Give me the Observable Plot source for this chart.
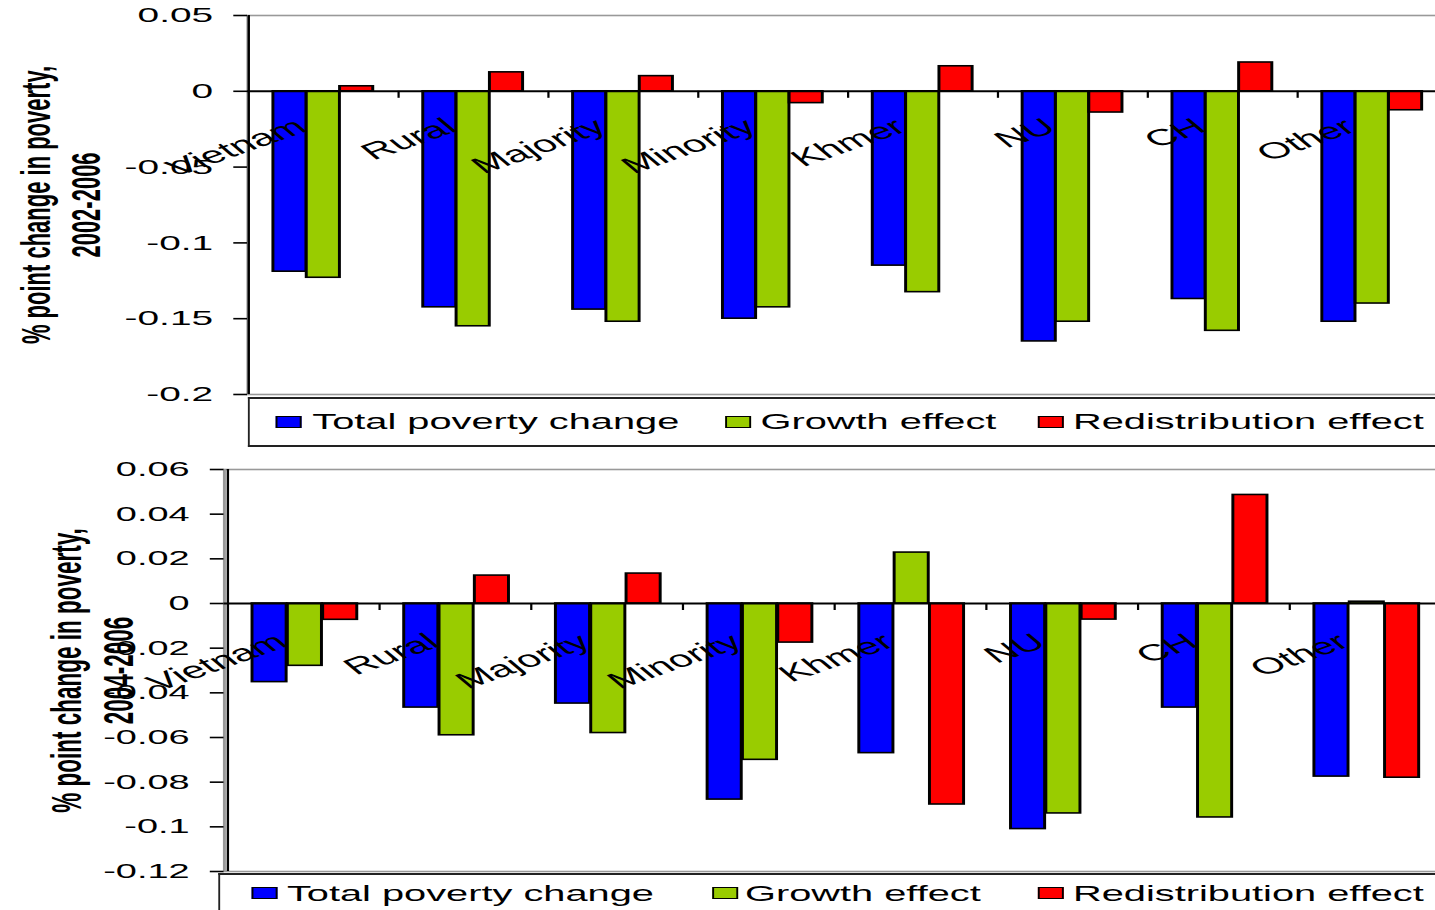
<!DOCTYPE html>
<html><head><meta charset="utf-8">
<script src="https://cdn.jsdelivr.net/npm/d3@7"></script>
<script src="https://cdn.jsdelivr.net/npm/@observablehq/plot@0.6"></script>
<style>
html,body{margin:0;padding:0;background:#fff;overflow:hidden;width:1435px;height:910px;}
#wrap{position:absolute;left:0;top:0;width:800px;height:910px;transform:scaleX(1.85);transform-origin:0 0;font-family:"Liberation Sans",Arial,sans-serif;}
.chart{position:absolute;left:0;}
.lbox{position:absolute;background:#fff;border-top:2px solid #222;border-bottom:2px solid #222;border-left:1.1px solid #222;width:700px;height:46px;}
.sw{position:absolute;width:12px;height:10px;border:1px solid #000;border-left-width:0.8px;border-right-width:0.8px;}
.lt{position:absolute;font-size:21.5px;line-height:21px;white-space:nowrap;color:#000;}
</style></head><body><div id="wrap"></div>
<script>
// ---- data ----
const categories = ["Vietnam", "Rural", "Majority", "Minority", "Khmer", "NU", "CH", "Other"];
const seriesNames = ["Total poverty change", "Growth effect", "Redistribution effect"];
const seriesColors = ["#0000FF", "#99CC00", "#FF0000"];

// 2002-2006
const total0206  = [-0.119, -0.1425, -0.144, -0.150, -0.115, -0.165, -0.137, -0.152];
const growth0206 = [-0.123, -0.155, -0.152, -0.1425, -0.1325, -0.152, -0.158, -0.140];
const redist0206 = [0.0033, 0.0125, 0.010, -0.0078, 0.0165, -0.014, 0.019, -0.0125];
const yTicks0206 = [0.05, 0, -0.05, -0.1, -0.15, -0.2];

// 2004-2006
const total0406  = [-0.0352, -0.0466, -0.0448, -0.0878, -0.067, -0.101, -0.0466, -0.0775];
const growth0406 = [-0.0279, -0.059, -0.058, -0.070, 0.0228, -0.094, -0.0958, 0.0008];
const redist0406 = [-0.0073, 0.0125, 0.0134, -0.0175, -0.090, -0.0072, 0.0486, -0.078];
const yTicks0406 = [0.06, 0.04, 0.02, 0, -0.02, -0.04, -0.06, -0.08, -0.1, -0.12];

const titleTop = "% point change in poverty,\n2002-2006";
const titleBottom = "% point change in poverty,\n2004-2006";

const FONT = "Liberation Sans, Arial, sans-serif";
const fmt = d => d === 0 ? "0" : String(+d.toFixed(2));

function makeChart(cfg) {
  const rows = categories.map((c, i) => ({cat: c, v0: cfg.series[0][i], v1: cfg.series[1][i], v2: cfg.series[2][i]}));
  const plotW = cfg.width - cfg.marginLeft - cfg.marginRight;
  const plotH = cfg.height - cfg.marginTop - cfg.marginBottom;
  const band = plotW / categories.length;
  const tickData = 7 * (cfg.domain[1] - cfg.domain[0]) / plotH;
  const keys = ["v0", "v1", "v2"];
  const bars = keys.map((k, j) => Plot.barY(rows, {
    x: "cat", y: k, fill: seriesColors[j], stroke: "#000", strokeWidth: 1.6,
    insetLeft: band * (cfg.off + j * cfg.bw),
    insetRight: band * (1 - cfg.off - (j + 1) * cfg.bw)
  }));
  return Plot.plot({
    width: cfg.width, height: cfg.height,
    marginLeft: cfg.marginLeft, marginRight: cfg.marginRight,
    marginTop: cfg.marginTop, marginBottom: cfg.marginBottom,
    style: {fontFamily: FONT, color: "#000", background: "transparent", overflow: "visible"},
    x: {domain: categories, axis: null, padding: 0},
    y: {domain: cfg.domain, axis: null, label: null},
    marks: [
      Plot.frame({stroke: "#999", strokeWidth: 1.6}),
      ...bars,
      Plot.ruleY([0], {stroke: "#000", strokeWidth: 2}),
      Plot.ruleX(categories.slice(1), {x: d => d, y1: 0, y2: -tickData, dx: -band / 2, stroke: "#000", strokeWidth: 1.2}),
      Plot.ruleX(categories.slice(0, 1), {x: d => d, dx: -band / 2, stroke: "#000", strokeWidth: 1.3}),
      Plot.axisY(cfg.ticks, {tickSize: 7.4, tickPadding: 11.4, tickFormat: fmt, fontSize: cfg.tickFont, strokeWidth: 1.6, label: null}),
      Plot.text(categories, {x: d => d, y: () => 0, text: d => d, rotate: -33, textAnchor: "end",
        dx: cfg.labDx, dy: cfg.labDy, fontSize: 23, fill: "#000"}),
      Plot.text([cfg.title], {frameAnchor: "left", text: d => d, rotate: -90, dx: cfg.titleDx,
        fontSize: cfg.titleFont, fontWeight: "bold", lineHeight: cfg.titleLH, textAnchor: "middle", fill: "#000"})
    ]
  });
}

const wrap = document.getElementById("wrap");

const c1 = makeChart({
  series: [total0206, growth0206, redist0206], domain: [-0.2, 0.05], ticks: yTicks0206,
  width: 782.2, height: 396, marginLeft: 133.5, marginRight: 0, marginTop: 15, marginBottom: 2,
  off: 0.1667, bw: 0.2222, tickFont: 21, labDx: -12, labDy: 33,
  title: titleTop, titleDx: -102.2, titleFont: 22, titleLH: 1.23
});
c1.classList.add("chart"); c1.style.top = "0px";
wrap.appendChild(c1);

const c2 = makeChart({
  series: [total0406, growth0406, redist0406], domain: [-0.12, 0.06], ticks: yTicks0406,
  width: 782.0, height: 426, marginLeft: 120.8, marginRight: 0, marginTop: 22, marginBottom: 2,
  off: 0.16, bw: 0.231, tickFont: 20.5, labDx: -12, labDy: 36,
  title: titleBottom, titleDx: -72.7, titleFont: 22.5, titleLH: 1.25
});
c2.classList.add("chart"); c2.style.top = "447px";
wrap.appendChild(c2);

function legend(boxLeft, boxTop, swLefts, txtLefts, swTop, txtTop) {
  const box = document.createElement("div");
  box.className = "lbox";
  box.style.left = boxLeft + "px"; box.style.top = boxTop + "px";
  wrap.appendChild(box);
  seriesNames.forEach((name, j) => {
    const sw = document.createElement("div");
    sw.className = "sw";
    sw.style.left = swLefts[j] + "px"; sw.style.top = swTop + "px";
    sw.style.background = seriesColors[j];
    wrap.appendChild(sw);
    const t = document.createElement("div");
    t.className = "lt";
    t.style.left = txtLefts[j] + "px"; t.style.top = txtTop + "px";
    t.textContent = name;
    wrap.appendChild(t);
  });
}
legend(133.8, 397, [149.3, 392.2, 561.1], [168.8, 411.1, 580.0], 416, 412);
legend(117.8, 873, [136.2, 384.8, 560.5], [155.1, 402.7, 580.0], 887, 884);
</script></body></html>
